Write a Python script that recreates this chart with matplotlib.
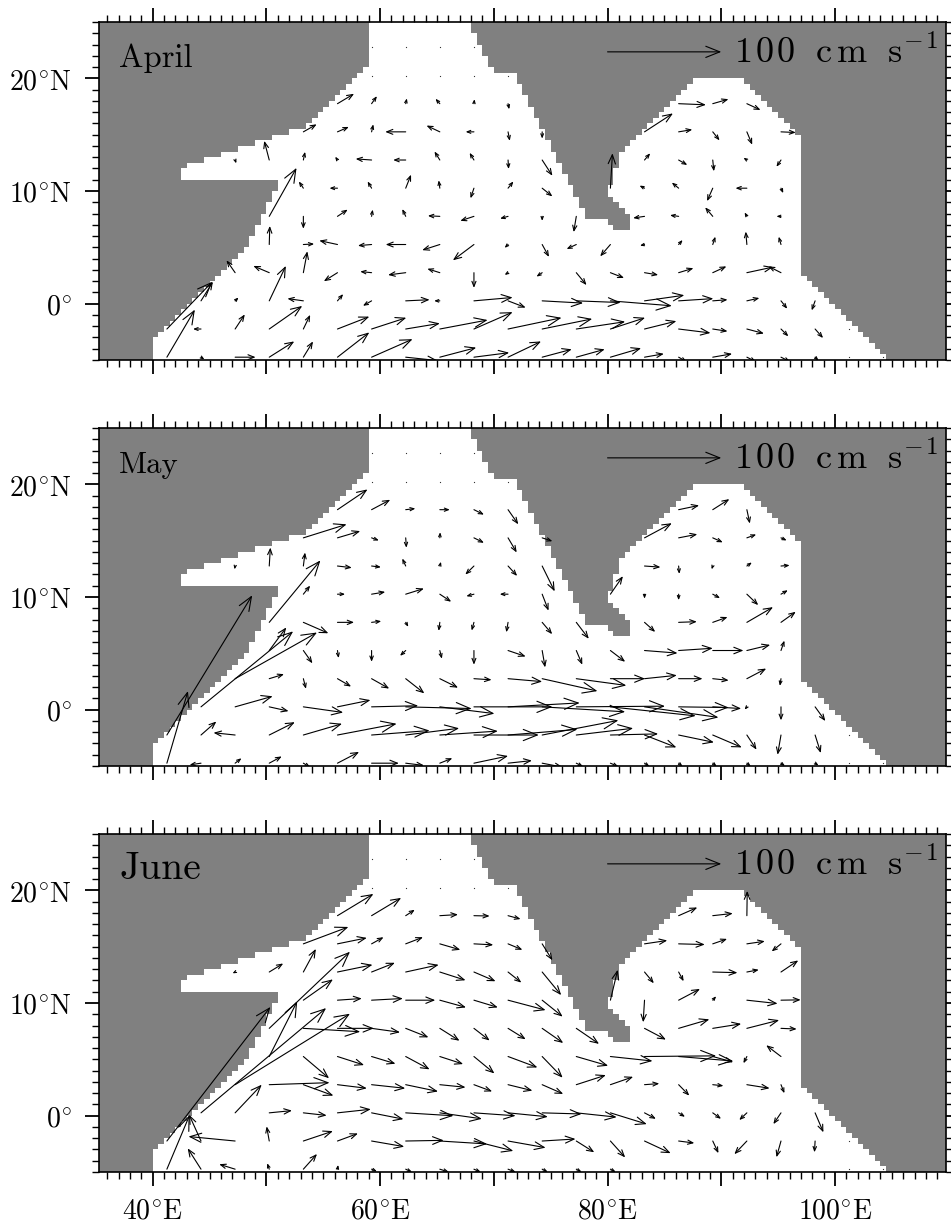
"""Monthly surface current vectors over the north Indian Ocean, three stacked panels."""

import matplotlib
matplotlib.use("Agg")
import matplotlib.pyplot as plt
import numpy as np
from matplotlib.colors import ListedColormap
from matplotlib.patches import ArrowStyle, FancyArrowPatch

plt.rcParams["mathtext.fontset"] = "cm"

n = float("nan")

# land mask, one entry per 0.5 degree latitude row starting at 5S
WEST_COAST = [40, 40, 40, 40, 40.5, 41, 41.5, 42, 42.5, 43, 43.5, 44, 44.5, 45, 45.5, 46, 46.5, 47, 47.5, 48,
              48.5, 48.5, 49, 49, 49.5, 49.5, 50, 50, 50.5, 50.5, 51, 51, 42.5, 42.5, 43, 44.5, 46, 47.5, 49, 50.5,
              52, 53.5, 54, 54.5, 55, 55.5, 56, 56.5, 57, 57.5, 58, 58.5, 59, 59, 59, 59, 59, 59, 59, 59]
EAST_COAST = [104.5, 104, 103.5, 103, 102.5, 102, 101.5, 101, 100.5, 100, 99.5, 99, 98.5, 98, 97.5,
              97, 97, 97, 97, 97, 97, 97, 97, 97, 97, 97, 97, 97, 97, 97, 97, 97, 97, 97, 97, 97, 97, 97, 97, 97,
              96.5, 96, 95.5, 95, 94.5, 94, 93.5, 93, 92.5, 92]
# India block starts at row 23
INDIA_WEST = [80.5, 80, 78, 78, 77.5, 77.5, 77, 77, 76.5, 76.5, 76, 76, 75.5, 75.5, 75, 75, 74.5, 74.5, 74, 74,
              73.5, 73.5, 73, 73, 72.5, 72.5, 72, 72, 70, 69.5, 69.5, 69, 69, 68.5, 68.5, 68, 68]
INDIA_EAST = [82, 82, 82, 81.5, 81, 80.5, 80, 80, 80.5, 80.5, 80.5, 81, 81, 81, 81.5, 82, 82.5, 83, 83.5,
              84, 84.5, 85, 85.5, 86, 86.5, 87, 87.5]

# vector grid
GRID_LON0, GRID_LAT0, GRID_STEP_LON, GRID_STEP_LAT = 41.25, -4.75, 3.0, 2.5

# speeds in cm/s; rows go north from 4.75S, columns east from 41.25E
APRIL_U = [
    [24.6, 3, 18, 22, 8.5, 28, 36, 28, 32, 31, 29, 26, 25, 27, 17, 7, 17, 8, 8, 3],
    [40, -7, 8.5, 29, 6, 28, 30.5, 30, 42, 34, 47, 44, 43, 30.5, 28, 28, 13, 15, 6.5, 7],
    [n, 10.5, 3, 14.6, -14, 5, -7.6, 21, -5, 34, 15.5, 36, 39, 54, 35, 30.5, 13, 11, 5.5, -3],
    [n, n, -7.6, -14, 3.5, -12, -10, -15.5, -11, 0, -3, -5, 9, 12, 12, 13, 12, 23, -11],
    [n, n, n, .5, 9.5, -16, -12, -17.6, -15.5, -18.5, -3, 6, -8.5, -9, -4, 3.5, 2.3, -1, -2],
    [n, n, n, 24, 0, 9, 1, -3, -10.5, -12, -7, 0, -2.3, n, -10, -7.6, -6.7, -2, -4],
    [n, n, n, n, -4, -7, -3.5, 4.7, -1, -3, 4.7, 9, n, 1.8, -4.4, -6, -5, -10, 2],
    [n, n, 1, -4.4, 1.5, -2, -14, -11, -4.7, -3.8, .5, 9, n, n, 5, 7.6, 1, -3, -4],
    [n, n, n, n, 11.7, 10, 1.5, -18, -11.7, -7.3, 1.5, 0, n, n, 25, 12, 6, 4.7, 13],
    [n, n, n, n, n, 14.6, 4.7, 1, -3.8, .5, 1, n, n, n, n, 24, 13.8, 12],
]
APRIL_V = [
    [42.2, -2, 0, 14, 14, 22, 16, -3, 8.5, 4, 14, 7, 7, 8, 3, -4, 3, -4, -4, -3],
    [42, 0, 13, 20.5, 12.6, 11, 10, 5, 8, 15, 10, 9, 6.5, 10, 7, -3.5, -2, -4, -6.5, -8],
    [n, 17, 3, 31, 2, 6, -4.4, 1, 0, 3, -6, -2, -1.5, -4.4, 5, 2, 1, 2.5, -7, -8.5],
    [n, n, 11, 6, 19, -7.6, 1, -2, 3.5, -13.5, -2, -3.5, -11, -4.7, -2, 4, 5.6, 5, 5.6],
    [n, n, n, 16.5, .5, 3.5, -1, 0, -5, -14, -3, -11, -4, -10.5, -1, 4, 7, 11.5, 7],
    [n, n, n, 43, -11, 6, 6, 6.5, .5, -4, -2, -4, -14, n, -1.5, 1, 8, 3.5, 0],
    [n, n, n, n, 6, 0, 6, 12, 7, -9, 6, -7.3, n, 31, 2.3, 5, -11.5, 0, -4.4],
    [n, n, -3, 17, 7.3, 3, 1, 0, 7.6, 6.4, -8, -14, n, n, 6, -4.4, -10, 2, -6],
    [n, n, n, n, 6.7, 4.4, 6.7, 0, 5.6, 0, -8, -6, n, n, 16.4, 2, -7.6, -11.4, -.6],
    [n, n, n, n, n, 8.8, 6.7, 4.7, 4.4, 4, -5, n, n, n, n, -1, 4, -5.6],
]

MAY_U = [
    [18.5, -10, 5.6, 11, 6, 19, 24, 16, 11, 30, 21, 18, 6, 7, 4.4, 3.5, 3.5, 3.5, 3.5, 3],
    [75, 13.5, -19, 22.5, 34, 52, 51, 47, 51, 57, 61, 67, 50, 42, 28, 31, 25.5, 8.5, -3, 5],
    [n, 81, 33, 17, 35, 29, 41, 58, 48, 69, 63, 73, 78, 75, 65, 44, 25, -2, 0, 9],
    [n, n, 72, 13, 2.3, 12, 15.5, 16.4, 16, 15.5, 30, 48.6, 44, 30.5, 28.4, 21, 14, 17, -1],
    [n, n, n, 15, 8, 1, 0, -5, 1.8, 0, 15.5, 2.6, 5.3, 13, 29, 30, 27, 20.5, 3],
    [n, n, n, 45, 22, 14.6, 8.5, 2.3, -1, -2, -1.5, 8.8, 11, n, 9.4, 16, 13, 23, 13],
    [n, n, n, n, 6, 6.7, 12, 16, 10, -6.7, -7.3, 5.6, n, 11, 0, 0, 6.4, 10, 6],
    [n, n, -.5, 1, 1.5, 12.6, 8.2, -3, 1, -7.6, 8, 11, n, n, 14, .6, -1, 4.4, 7.6],
    [n, n, n, n, 38, 20, 6.4, .6, .3, 8.8, 7.6, 9, n, n, 24, 16.4, 8.8, 8.2, 5],
    [n, n, n, n, n, 26.4, 16.4, 8.5, 8.8, 8.8, 9, n, n, n, n, 18, 14.6, 2.6],
]
MAY_V = [
    [64, -1.5, 4.4, 6, -3.5, 10, 0, -2, 4.4, 6.4, 2.3, -3.5, -3, -3, -3, -3, -3, -3, -2.5, -2],
    [124, 12, 2, 11.4, 10, 10, 4, 6, 3.5, 0, 5, 13, 6, 1, -11, -6.5, -11, -13, -17.5, -16],
    [n, 67, 9.4, -3.8, -5, 6, 1, -1.5, -6, 0, 3.5, -4.4, .6, -8, -9.4, -.6, -1.5, -2.5, -12, -12.6],
    [n, n, 41, 4, -9, -7, -8.8, -13, -8, -1, -2.6, -11, -6, 0, 3, 0, -1.5, 9, -6.4],
    [n, n, n, 20.5, -11.4, -6.7, -10, -4.7, -7.3, -12.6, -5.3, -15, -12.6, -10, -2.3, 2, 0, 5, 8.8],
    [n, n, n, 55, -9.7, 0, 1, -4, -7.6, -7.3, -8.8, -10.5, -14.6, n, -8.5, .6, 4.7, 13.5, 9.4],
    [n, n, n, n, 7.6, 0, 2, 5, -6.7, -1.8, 0, -14.6, n, 16, -4, -5.3, -3.5, -9.7, 3.5],
    [n, n, -3, 16.4, 12, -1.5, -1, 6.7, 3.8, -7.6, -8.8, -22.5, n, n, -1, -7, -3, 3.2, .6],
    [n, n, n, n, 12, 6, -2.3, -8.8, 5, -4.4, -13, -3, n, n, 13, 3.2, -4, 3, -2.3],
    [n, n, n, n, n, 18, 8.8, 1, 0, -4.4, -13, n, n, n, n, 3.8, 9.4, -12.3],
]

JUNE_U = [
    [20, -11.7, -14, -1.8, 12, .6, 4.7, 5.6, 8, 6, 6.7, 5, 4.7, 4.7],
    [91, -10.5, -41, -2.3, 26, 18, 28.7, 33.4, 41.6, 34.6, 33, 29.3, 15.8, 13, 23, 13.8, 5, -11, -4, -.6],
    [n, 110, 23.4, 20, 20.5, 29.3, 28, 42, 37, 36.6, 35, 34.6, 35.5, 32, 10, 5.6, 7.3, -6.7, -6.7, 7.3],
    [n, n, 101, 53, 26.4, 25.8, 29.6, 28.4, 22.6, 16, 21.4, 18.5, 26, 20, 13, 9.4, 9.4, 20, 3],
    [n, n, n, 24.6, 22.6, 23.4, 21, 21, 20.5, 18, 25.8, 18, 28, 37, 63, 48, 18, -3, -13],
    [n, n, n, 71, 50, 32, 25, 20, 17.3, 13.8, 15.5, 18.5, 20, n, 18.8, 27, 25, 28.4, 13.8],
    [n, n, n, n, 26, 21.4, 27.5, 26, 23, 21, 33, 18, n, 6.4, -1.2, 18.8, 3, 27, 17.3],
    [n, n, -2.3, 12.3, 11, 30.8, 20.5, 29, 22.6, 19, 11.7, 16.7, n, n, 8.2, 4.4, 21.7, 10.5, 15.2],
    [n, n, n, n, 39.6, 25.8, 10.5, 15.2, 18, 17, 12.6, 9, n, n, 20, 23, 12.6, 15.8, -8.2],
    [n, n, n, n, n, 31.6, 26, 8, 16, 13.8, 11, n, n, n, n, 16.4, 17.6, .3],
]
JUNE_V = [
    [48, 18.5, 4.4, 5.3, 13.5, 3.8, -2, -2.6, -2.6, -2.6, -2.6, -2.6, -2.6, -2.6],
    [119, 23.4, 4, 13, 8.8, 6.7, -5, .6, -2.6, -8.8, -5.9, 1.8, -10, -14.6, -10.8, -1.8, -10.8, -11.7, -14.4, -10],
    [n, 93, 25, 2, -2.3, 3.2, -5.6, -2.6, -5.3, -2.6, -3.5, -1, -3.8, -10, -5.3, -3.5, -5.3, -6.4, -10, -17.3],
    [n, n, 63, 1.8, -9.7, -3.2, -3.2, -6, -2.3, -6, -5.3, -8.2, 8.5, 7, 1, -9.7, -1, -3.2, -7.6],
    [n, n, n, 49, -19.3, -7.6, -6.4, -11.4, -6.7, -15, -9.7, -18.8, -8.2, -4, .6, -4, -5, -6, 10],
    [n, n, n, 68, -3, 0, -3.5, -8, -11, -10.8, -9.7, -13, -13.8, n, -10, 8, 4, 7.3, -.6],
    [n, n, n, n, 18.5, 1.5, 1.5, 0, -6.4, -6.4, -8.8, -14.6, n, 27, -19.6, 10, 3.5, -3, .3],
    [n, n, -1.2, 7.6, 20.5, 6.4, 8.2, 6.4, -7.3, -8.2, -9.4, -20.5, n, n, -10, -8.2, -.6, 2, 10.3],
    [n, n, n, n, 15, 5.3, 5.9, 5.9, -5.3, -.9, -5.3, -14.6, n, n, 3, -.6, 4.4, 2.3, -6.7],
    [n, n, n, n, n, 19.3, 15.8, 5.3, 1, -.3, -3, n, n, n, n, 7.3, 2, 22],
]

# grid points with no measurable current, drawn as specks
CALM_LON = [59.25, 62.25, 65.25, 68.25, 71.25, 59.25, 62.25, 65.25, 68.25, 101.25, 101.25, 104.25]
CALM_LAT = [20.25, 20.25, 20.25, 20.25, 20.25, 22.75, 22.75, 22.75, 22.75, -2.25, -4.75, -4.75]

MONTHS = ["April", "May", "June"]
MONTH_SIZES = [23.5, 22, 28.5]
XTICKS = [40, 60, 80, 100]
XLABELS = [r"$\mathrm{40^{\circ}E}$", r"$\mathrm{60^{\circ}E}$", r"$\mathrm{80^{\circ}E}$", r"$\mathrm{100^{\circ}E}$"]
YTICKS = [0, 10, 20]
YLABELS = [r"$\mathrm{0^{\circ}}$", r"$\mathrm{10^{\circ}N}$", r"$\mathrm{20^{\circ}N}$"]
SCALE_LABEL = r"$\mathrm{1\hspace{0.1}0\hspace{0.1}0\ \ c\hspace{0.15}m\ \ s^{-\hspace{0.1}1}}$"

WIDTH, HEIGHT = 951, 1224
PANEL_TOPS = [22, 428, 834]
PANEL_H = 338
PX_LEFT, PX_RIGHT = 99, 946
GRAY = "#808080"


def land_mask():
    lon_edges = np.arange(35, 110.5, 0.5)
    lat_edges = np.arange(-5, 25.5, 0.5)
    land = np.ones((len(lat_edges) - 1, len(lon_edges) - 1))
    lons = lon_edges[:-1]
    for i, west in enumerate(WEST_COAST):
        east = EAST_COAST[i] if i < len(EAST_COAST) else 200
        ocean = (lons >= west) & (lons < east)
        if i >= 23:
            block_w = INDIA_WEST[i - 23]
            block_e = INDIA_EAST[i - 23] if i - 23 < len(INDIA_EAST) else 200
            ocean &= ~((lons >= block_w) & (lons < block_e))
        land[i, ocean] = 0
    return lon_edges, lat_edges, land


def draw_arrow(ax, x0, y0, x1, y1, length_px):
    # heads grow with the arrow up to a cap, as in the original plotting package
    head = min(14.0, 2.0 + 0.2 * length_px) * 0.72
    style = ArrowStyle("->", head_length=head, head_width=head * 0.4)
    ax.add_patch(FancyArrowPatch((x0, y0), (x1, y1), arrowstyle=style, mutation_scale=1,
                                 shrinkA=0, shrinkB=0, lw=0.8, color="black", zorder=3))


def draw_panel(ax, u_rows, v_rows, month, month_size, show_xlabels):
    lon_edges, lat_edges, land = land_mask()
    ax.pcolormesh(lon_edges, lat_edges, land, cmap=ListedColormap(["white", GRAY]), vmin=0, vmax=1)
    ax.plot(CALM_LON, CALM_LAT, ls="none", marker="s", ms=0.8, color="#333333", mew=0)

    for j, (us, vs) in enumerate(zip(u_rows, v_rows)):
        lat = GRID_LAT0 + GRID_STEP_LAT * j
        for k, (u, v) in enumerate(zip(us, vs)):
            if np.isnan(u):
                continue
            lon = GRID_LON0 + GRID_STEP_LON * k
            draw_arrow(ax, lon, lat, lon + u / 10, lat + v / 10, np.hypot(u, v) * 1.14)

    # 100 cm/s reference arrow
    draw_arrow(ax, 80, 22.35, 90, 22.35, 114)
    ax.text(91.15, 21.37, SCALE_LABEL, fontsize=26, va="baseline", ha="left")
    ax.text(37.05, 21.0, month, family="cmr10", fontsize=month_size, va="baseline", ha="left")

    ax.set_xlim(35.28, 109.76)
    ax.set_ylim(-5, 25)
    ax.set_xticks(np.arange(40, 110, 10))
    ax.set_xticks(np.arange(36, 110, 1), minor=True)
    ax.set_yticks(YTICKS)
    ax.set_yticks(np.arange(-5, 26, 1), minor=True)
    ax.tick_params(which="major", direction="out", length=10, width=1.3, top=True, right=True)
    ax.tick_params(which="minor", direction="out", length=5, width=1.0, top=True, right=True)
    ax.tick_params(axis="x", which="major", pad=7.5)
    ax.tick_params(axis="y", which="major", pad=9.5)
    ax.set_yticklabels(YLABELS, fontsize=20)
    labels = [XLABELS[XTICKS.index(t)] if (show_xlabels and t in XTICKS) else "" for t in range(40, 110, 10)]
    ax.set_xticklabels(labels, fontsize=20)
    for spine in ax.spines.values():
        spine.set_linewidth(1.2)


def main():
    fig = plt.figure(figsize=(WIDTH / 100, HEIGHT / 100), dpi=100)
    panels = [(APRIL_U, APRIL_V), (MAY_U, MAY_V), (JUNE_U, JUNE_V)]
    for idx, (us, vs) in enumerate(panels):
        top = PANEL_TOPS[idx]
        ax = fig.add_axes([PX_LEFT / WIDTH, 1 - (top + PANEL_H) / HEIGHT,
                           (PX_RIGHT - PX_LEFT) / WIDTH, PANEL_H / HEIGHT])
        draw_panel(ax, us, vs, MONTHS[idx], MONTH_SIZES[idx], idx == 2)
    fig.savefig("out.png", dpi=100)
    plt.close(fig)


if __name__ == "__main__":
    main()
